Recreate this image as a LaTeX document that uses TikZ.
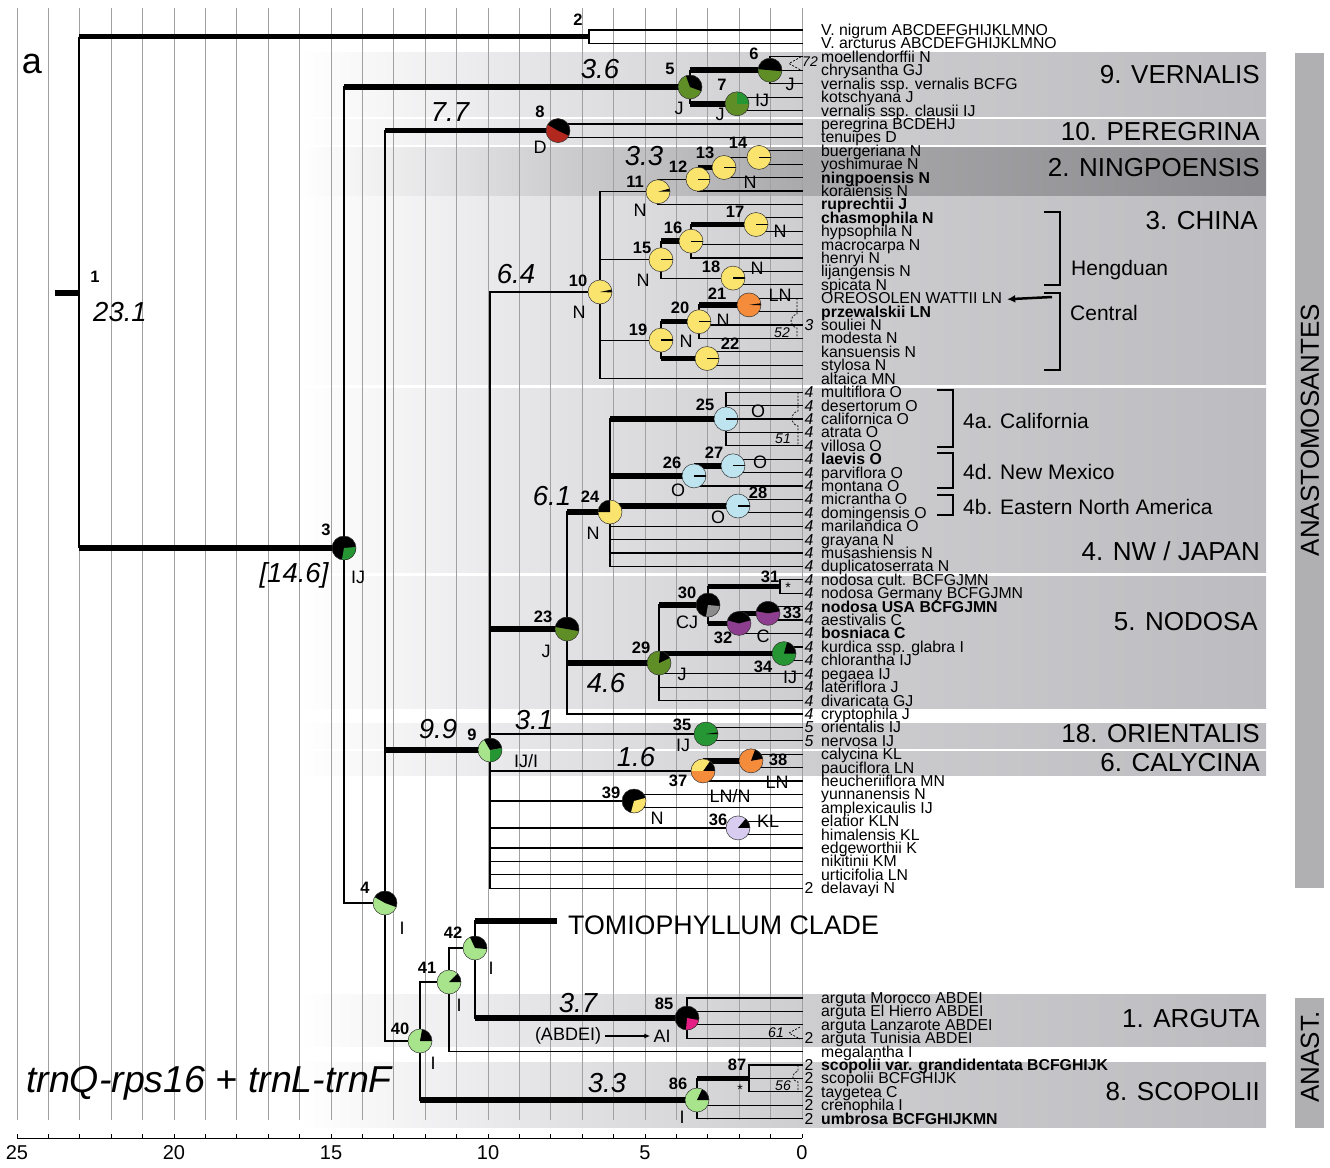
\documentclass[tikz,border=0pt]{standalone}
\usepackage{fontspec}
\setmainfont{Liberation Sans}
\usetikzlibrary{arrows.meta}
\definecolor{olv}{RGB}{96,142,38}
\definecolor{dkg}{RGB}{38,150,52}
\definecolor{lgr}{RGB}{168,228,140}
\definecolor{ylw}{RGB}{250,228,110}
\definecolor{org}{RGB}{245,140,60}
\definecolor{rdd}{RGB}{178,40,30}
\definecolor{lbl}{RGB}{190,228,240}
\definecolor{pur}{RGB}{142,62,142}
\definecolor{gry}{RGB}{140,140,140}
\definecolor{lav}{RGB}{216,204,240}
\definecolor{pnk}{RGB}{228,30,130}
\definecolor{bA}{RGB}{226,226,229}
\definecolor{bB}{RGB}{206,206,209}
\definecolor{bC}{RGB}{188,188,192}
\definecolor{dA}{RGB}{205,205,208}
\definecolor{dB}{RGB}{170,170,173}
\definecolor{dC}{RGB}{138,137,141}
\definecolor{gridc}{RGB}{160,160,160}
\definecolor{sidec}{RGB}{176,176,179}
\pgfdeclarehorizontalshading{bandsh}{100bp}{color(0bp)=(white); color(25bp)=(white); color(38.5bp)=(bA); color(51bp)=(bB); color(75bp)=(bC); color(100bp)=(bC)}
\pgfdeclarehorizontalshading{darksh}{100bp}{color(0bp)=(white); color(25bp)=(white); color(38.5bp)=(dA); color(51bp)=(dB); color(75bp)=(dC); color(100bp)=(dC)}
\newcommand{\tp}[3]{\coordinate (e#1) at (802,#2); \node[tiplab] (t#1) at (821,{#2+5.5}) {#3};}
\newcommand{\tpn}[4]{\coordinate (e#1) at (802,#2); \node[prelab] (p#1) at (809,{#2+5.5}) {#3}; \node[tiplab] (t#1) at (821,{#2+5.5}) {#4};}
\newcommand{\pbase}[2]{\fill[#2] (#1) circle[radius=12pt];}
\newcommand{\pcut}[4]{\fill[#4] (#1) -- ++(#2:12pt) arc[start angle=#2, end angle=#3, radius=12pt] -- cycle;}
\newcommand{\pout}[1]{\draw[pieline] (#1) circle[radius=12pt];}
\newcommand{\pln}[1]{\draw[line width=1.3pt] (#1) -- ++(0:12pt);}
\newcommand{\bandrow}[3]{\shade[shading=#3] (300,#1) rectangle (1266,#2);}
\begin{document}
\begin{tikzpicture}[x=1pt,y=-1pt,
  brn/.style={line width=1.2pt, line cap=rect},
  thk/.style={line width=5.5pt},
  tiplab/.style={anchor=base west, inner sep=0pt, font=\fontsize{15.8}{16}\selectfont},
  prelab/.style={anchor=base, inner sep=0pt, font=\fontsize{15.8}{16}\selectfont\itshape},
  nnum/.style={inner sep=0pt, font=\fontsize{16.5}{17}\selectfont\bfseries},
  stl/.style={inner sep=0pt, font=\fontsize{18}{18}\selectfont},
  agel/.style={inner sep=0pt, font=\fontsize{27.5}{28}\selectfont\itshape},
  clab/.style={anchor=east, inner sep=0pt, font=\fontsize{26}{26}\selectfont},
  regl/.style={anchor=west, inner sep=0pt, font=\fontsize{21}{21}\selectfont},
  anno/.style={inner sep=0pt, font=\fontsize{14}{14}\selectfont\itshape},
  pieline/.style={draw=black!80, line width=0.5pt},
  dsh/.style={dash pattern=on 2pt off 1.5pt, line width=0.7pt},
  gline/.style={draw=gridc, line width=0.8pt},
  brk/.style={line width=2pt}
]
\useasboundingbox (0,0) rectangle (1330,1167);
% ---------- clade bands ----------
\bandrow{52}{116}{bandsh}
\bandrow{119}{144}{bandsh}
\bandrow{147}{196}{darksh}
\bandrow{196}{384}{bandsh}
\bandrow{388}{572}{bandsh}
\bandrow{576}{708}{bandsh}
\bandrow{723}{748}{bandsh}
\bandrow{751}{775}{bandsh}
\bandrow{994}{1046}{bandsh}
\bandrow{1062}{1127}{bandsh}
% side bars
\fill[sidec] (1295,53) rectangle (1324,888);
\fill[sidec] (1295,998) rectangle (1324,1128);
\node[rotate=90, inner sep=0pt, font=\fontsize{26}{26}\selectfont] (anas) at (1310,430) {ANASTOMOSANTES};
\node[rotate=90, inner sep=0pt, font=\fontsize{26}{26}\selectfont] (anst) at (1310,1057) {ANAST.};
% ---------- grid and axis ----------
\foreach \k in {0,...,25} \draw[gline] ({802-31.4*\k},8) -- ({802-31.4*\k},1120);
\draw[line width=1pt] (17,1138) -- (802,1138);
\foreach \k in {0,...,25} \draw[line width=0.8pt] ({802-31.4*\k},1138) -- ({802-31.4*\k},1134);
\foreach \k in {0,5,10,15,20,25} \node[inner sep=0pt, font=\fontsize{20}{20}\selectfont] (ax\k) at ({802-31.4*\k},1153) {\k};
% ---------- tips ----------
\tp{1}{30.0}{V. nigrum ABCDEFGHIJKLMNO}
\tp{2}{43.4}{V. arcturus ABCDEFGHIJKLMNO}
\tp{3}{56.8}{moellendorffii N}
\tp{4}{70.2}{chrysantha GJ}
\tp{5}{83.6}{vernalis ssp. vernalis BCFG}
\tp{6}{97.1}{kotschyana J}
\tp{7}{110.5}{vernalis ssp. clausii IJ}
\tp{8}{123.9}{peregrina BCDEHJ}
\tp{9}{137.3}{tenuipes D}
\tp{10}{150.7}{buergeriana N}
\tp{11}{164.1}{yoshimurae N}
\tp{12}{177.5}{\textbf{ningpoensis N}}
\tp{13}{190.9}{koraiensis N}
\tp{14}{204.3}{\textbf{ruprechtii J}}
\tp{15}{217.7}{\textbf{chasmophila N}}
\tp{16}{231.2}{hypsophila N}
\tp{17}{244.6}{macrocarpa N}
\tp{18}{258.0}{henryi N}
\tp{19}{271.4}{lijangensis N}
\tp{20}{284.8}{spicata N}
\tp{21}{298.2}{OREOSOLEN WATTII LN}
\tp{22}{311.6}{\textbf{przewalskii LN}}
\tpn{23}{325.0}{3}{souliei N}
\tp{24}{338.4}{modesta N}
\tp{25}{351.8}{kansuensis N}
\tp{26}{365.3}{stylosa N}
\tp{27}{378.7}{altaica MN}
\tpn{28}{392.1}{4}{multiflora O}
\tpn{29}{405.5}{4}{desertorum O}
\tpn{30}{418.9}{4}{californica O}
\tpn{31}{432.3}{4}{atrata O}
\tpn{32}{445.7}{4}{villosa O}
\tpn{33}{459.1}{4}{\textbf{laevis O}}
\tpn{34}{472.5}{4}{parviflora O}
\tpn{35}{485.9}{4}{montana O}
\tpn{36}{499.3}{4}{micrantha O}
\tpn{37}{512.8}{4}{domingensis O}
\tpn{38}{526.2}{4}{marilandica O}
\tpn{39}{539.6}{4}{grayana N}
\tpn{40}{553.0}{4}{musashiensis N}
\tpn{41}{566.4}{4}{duplicatoserrata N}
\tpn{42}{579.8}{4}{nodosa cult. BCFGJMN}
\tpn{43}{593.2}{4}{nodosa Germany BCFGJMN}
\tpn{44}{606.6}{4}{\textbf{nodosa USA BCFGJMN}}
\tpn{45}{620.0}{4}{aestivalis C}
\tpn{46}{633.4}{4}{\textbf{bosniaca C}}
\tpn{47}{646.9}{4}{kurdica ssp. glabra I}
\tpn{48}{660.3}{4}{chlorantha IJ}
\tpn{49}{673.7}{4}{pegaea IJ}
\tpn{50}{687.1}{4}{lateriflora J}
\tpn{51}{700.5}{4}{divaricata GJ}
\tpn{52}{713.9}{4}{cryptophila J}
\tpn{53}{727.3}{5}{orientalis IJ}
\tpn{54}{740.7}{5}{nervosa IJ}
\tp{55}{754.1}{calycina KL}
\tp{56}{767.5}{pauciflora LN}
\tp{57}{780.9}{heucheriiflora MN}
\tp{58}{794.3}{yunnanensis N}
\tp{59}{807.8}{amplexicaulis IJ}
\tp{60}{821.2}{elatior KLN}
\tp{61}{834.6}{himalensis KL}
\tp{62}{848.0}{edgeworthii K}
\tp{63}{861.4}{nikitinii KM}
\tp{64}{874.8}{urticifolia LN}
\tpn{65}{888.2}{\upshape 2}{delavayi N}
\tp{66}{998.0}{arguta Morocco ABDEI}
\tp{67}{1011.4}{arguta El Hierro ABDEI}
\tp{68}{1024.8}{arguta Lanzarote ABDEI}
\tpn{69}{1038.2}{\upshape 2}{arguta Tunisia ABDEI}
\tp{70}{1051.6}{megalantha I}
\tpn{71}{1065.0}{\upshape 2}{\textbf{scopolii var. grandidentata BCFGHIJK}}
\tpn{72}{1078.4}{\upshape 2}{scopolii BCFGHIJK}
\tpn{73}{1091.8}{\upshape 2}{taygetea C}
\tpn{74}{1105.2}{\upshape 2}{crenophila I}
\tpn{75}{1118.6}{\upshape 2}{\textbf{umbrosa BCFGHIJKMN}}
% ---------- internal nodes ----------
\coordinate (r0) at (55,293);
\coordinate (n1) at (79,293);
\coordinate (n2) at (589,36.7);
\coordinate (n3) at (344,548);
\coordinate (n4) at (385,903);
\coordinate (n5) at (690,87);
\coordinate (n6) at (770,70.2);
\coordinate (n7) at (737,103.8);
\coordinate (n8) at (558,130.6);
\coordinate (n9) at (490,750);
\coordinate (n10) at (600,292);
\coordinate (n11) at (658,191.7);
\coordinate (n12) at (698,179.2);
\coordinate (n13) at (724,167.5);
\coordinate (n14) at (759,157.4);
\coordinate (n15) at (661,259.7);
\coordinate (n16) at (691,241.2);
\coordinate (n17) at (756,224.5);
\coordinate (n18) at (733,278.1);
\coordinate (n19) at (661,340.1);
\coordinate (n20) at (699,321.7);
\coordinate (n21) at (749,304.9);
\coordinate (n22) at (707,358.5);
\coordinate (n23) at (567,629);
\coordinate (n24) at (610,512);
\coordinate (n25) at (726,418.9);
\coordinate (n26) at (694,475.9);
\coordinate (n27) at (733,465.8);
\coordinate (n28) at (738,506);
\coordinate (n29) at (659,663);
\coordinate (n30) at (708,605);
\coordinate (n31) at (780,586.5);
\coordinate (n32) at (739,623.4);
\coordinate (n33) at (768,613.3);
\coordinate (n34) at (784,653.6);
\coordinate (n35) at (706,734);
\coordinate (n36) at (738,827.9);
\coordinate (n37) at (703,770.9);
\coordinate (n38) at (751,760.8);
\coordinate (n39) at (634,801);
\coordinate (n40) at (420,1041);
\coordinate (n41) at (449,982);
\coordinate (n42) at (475,948);
\coordinate (tom) at (557,921);
\coordinate (n85) at (687,1018);
\coordinate (n86) at (697,1100);
\coordinate (n87) at (749,1078.4);
% ---------- verticals ----------
\draw[line width=2.2pt] (n1|-n2) -- (n1|-n3);
\draw[brn] (n2|-e1) -- (n2|-e2);
\draw[brn] (n3|-n5) -- (n3|-n4);
\draw[brn] (n5|-n6) -- (n5|-n7);
\draw[brn] (n6|-e3) -- (n6|-e5);
\draw[brn] (n7|-e6) -- (n7|-e7);
\draw[brn] (n4|-n8) -- (n4|-n40);
\draw[brn] (n8|-e8) -- (n8|-e9);
\draw[brn] (n9|-n10) -- (n9|-e65);
\draw[brn] (n10|-n11) -- (n10|-e27);
\draw[brn] (n11|-n12) -- (n11|-e14);
\draw[brn] (n12|-n13) -- (n12|-e13);
\draw[brn] (n13|-n14) -- (n13|-e12);
\draw[brn] (n14|-e10) -- (n14|-e11);
\draw[brn] (n15|-n16) -- (n15|-n18);
\draw[brn] (n16|-n17) -- (n16|-e18);
\draw[brn] (n17|-e15) -- (n17|-e16);
\draw[brn] (n18|-e19) -- (n18|-e20);
\draw[brn] (n19|-n20) -- (n19|-n22);
\draw[brn] (n20|-n21) -- (n20|-e24);
\draw[brn] (n21|-e21) -- (n21|-e22);
\draw[brn] (n22|-e25) -- (n22|-e26);
\draw[brn] (n23|-n24) -- (n23|-e52);
\draw[brn] (n24|-n25) -- (n24|-e41);
\draw[brn] (n25|-e28) -- (n25|-e32);
\draw[brn] (n26|-n27) -- (n26|-e35);
\draw[brn] (n27|-e33) -- (n27|-e34);
\draw[brn] (n28|-e36) -- (n28|-e37);
\draw[brn] (n29|-n30) -- (n29|-e51);
\draw[brn] (n30|-n31) -- (n30|-n32);
\draw[brn] (n31|-e42) -- (n31|-e43);
\draw[brn] (n32|-n33) -- (n32|-e46);
\draw[brn] (n33|-e44) -- (n33|-e45);
\draw[brn] (n34|-e47) -- (n34|-e48);
\draw[brn] (n35|-e53) -- (n35|-e54);
\draw[brn] (n37|-n38) -- (n37|-e57);
\draw[brn] (n38|-e55) -- (n38|-e56);
\draw[brn] (n39|-e58) -- (n39|-e59);
\draw[brn] (n36|-e60) -- (n36|-e61);
\draw[brn] (n40|-n41) -- (n40|-n86);
\draw[brn] (n41|-n42) -- (n41|-e70);
\draw[brn] (n42|-tom) -- (n42|-n85);
\draw[brn] (n85|-e66) -- (n85|-e69);
\draw[brn] (n86|-n87) -- (n86|-e75);
\draw[brn] (n87|-e71) -- (n87|-e73);
% ---------- thick branches ----------
\draw[thk] (r0) -- (n1);
\draw[thk] (n1|-n2) -- (n2);
\draw[thk] (n1|-n3) -- (n3);
\draw[thk] (n3|-n5) -- (n5);
\draw[thk] (n5|-n6) -- (n6);
\draw[thk] (n5|-n7) -- (n7);
\draw[thk] (n4|-n8) -- (n8);
\draw[thk] (n4|-n9) -- (n9);
\draw[thk] (n9|-n23) -- (n23);
\draw[thk] (n23|-n24) -- (n24);
\draw[thk] (n23|-n29) -- (n29);
\draw[thk] (n24|-n25) -- (n25);
\draw[thk] (n24|-n26) -- (n26);
\draw[thk] (n24|-n28) -- (n28);
\draw[thk] (n26|-n27) -- (n27);
\draw[thk] (n29|-n30) -- (n30);
\draw[thk] (n29|-n34) -- (n34);
\draw[thk] (n30|-n31) -- (n31);
\draw[thk] (n30|-n32) -- (n32);
\draw[thk] (n32|-n33) -- (n33);
\draw[thk] (n12|-n13) -- (n13);
\draw[thk] (n15|-n16) -- (n16);
\draw[thk] (n16|-n17) -- (n17);
\draw[thk] (n19|-n20) -- (n20);
\draw[thk] (n19|-n22) -- (n22);
\draw[thk] (n20|-n21) -- (n21);
\draw[thk] (n37|-n38) -- (n38);
\draw[thk] (n42|-tom) -- (tom);
\draw[thk] (n42|-n85) -- (n85);
\draw[thk] (n40|-n86) -- (n86);
\draw[thk] (n86|-n87) -- (n87);
% ---------- thin branches ----------
\draw[brn] (n3|-n4) -- (n4);
\draw[brn] (n9|-n10) -- (n10);
\draw[brn] (n10|-n11) -- (n11);
\draw[brn] (n10|-n15) -- (n15);
\draw[brn] (n10|-n19) -- (n19);
\draw[brn] (n11|-n12) -- (n12);
\draw[brn] (n13|-n14) -- (n14);
\draw[brn] (n15|-n18) -- (n18);
\draw[brn] (n9|-n35) -- (n35);
\draw[brn] (n9|-n37) -- (n37);
\draw[brn] (n9|-n39) -- (n39);
\draw[brn] (n9|-n36) -- (n36);
\draw[brn] (n4|-n40) -- (n40);
\draw[brn] (n40|-n41) -- (n41);
\draw[brn] (n41|-n42) -- (n42);
% tip branches
\foreach \i in {1,2} \draw[brn] (n2|-e\i) -- (e\i);
\foreach \i in {3,4,5} \draw[brn] (n6|-e\i) -- (e\i);
\foreach \i in {6,7} \draw[brn] (n7|-e\i) -- (e\i);
\foreach \i in {8,9} \draw[brn] (n8|-e\i) -- (e\i);
\foreach \i in {10,11} \draw[brn] (n14|-e\i) -- (e\i);
\draw[brn] (n13|-e12) -- (e12);
\draw[brn] (n12|-e13) -- (e13);
\draw[brn] (n11|-e14) -- (e14);
\foreach \i in {15,16} \draw[brn] (n17|-e\i) -- (e\i);
\foreach \i in {17,18} \draw[brn] (n16|-e\i) -- (e\i);
\foreach \i in {19,20} \draw[brn] (n18|-e\i) -- (e\i);
\foreach \i in {21,22} \draw[brn] (n21|-e\i) -- (e\i);
\foreach \i in {23,24} \draw[brn] (n20|-e\i) -- (e\i);
\foreach \i in {25,26} \draw[brn] (n22|-e\i) -- (e\i);
\draw[brn] (n10|-e27) -- (e27);
\foreach \i in {28,...,32} \draw[brn] (n25|-e\i) -- (e\i);
\foreach \i in {33,34} \draw[brn] (n27|-e\i) -- (e\i);
\draw[brn] (n26|-e35) -- (e35);
\foreach \i in {36,37} \draw[brn] (n28|-e\i) -- (e\i);
\foreach \i in {38,...,41} \draw[brn] (n24|-e\i) -- (e\i);
\foreach \i in {42,43} \draw[brn] (n31|-e\i) -- (e\i);
\foreach \i in {44,45} \draw[brn] (n33|-e\i) -- (e\i);
\draw[brn] (n32|-e46) -- (e46);
\foreach \i in {47,48} \draw[brn] (n34|-e\i) -- (e\i);
\foreach \i in {49,50,51} \draw[brn] (n29|-e\i) -- (e\i);
\draw[brn] (n23|-e52) -- (e52);
\foreach \i in {53,54} \draw[brn] (n35|-e\i) -- (e\i);
\foreach \i in {55,56} \draw[brn] (n38|-e\i) -- (e\i);
\draw[brn] (n37|-e57) -- (e57);
\foreach \i in {58,59} \draw[brn] (n39|-e\i) -- (e\i);
\foreach \i in {60,61} \draw[brn] (n36|-e\i) -- (e\i);
\foreach \i in {62,...,65} \draw[brn] (n9|-e\i) -- (e\i);
\foreach \i in {66,...,69} \draw[brn] (n85|-e\i) -- (e\i);
\draw[brn] (n41|-e70) -- (e70);
\foreach \i in {71,72,73} \draw[brn] (n87|-e\i) -- (e\i);
\foreach \i in {74,75} \draw[brn] (n86|-e\i) -- (e\i);
% ---------- pies ----------
\pbase{n3}{black}\pcut{n3}{-100}{5}{dkg}\pout{n3}
\pbase{n4}{lgr}\pcut{n4}{-20}{150}{black}\pout{n4}
\pbase{n5}{olv}\pcut{n5}{-20}{110}{black}\pout{n5}
\pbase{n6}{olv}\pcut{n6}{-5}{175}{black}\pout{n6}
\pbase{n7}{olv}\pcut{n7}{0}{90}{dkg}\pout{n7}
\pbase{n8}{rdd}\pcut{n8}{-25}{150}{black}\pout{n8}
\pbase{n9}{lgr}\pcut{n9}{-90}{10}{dkg}\pcut{n9}{10}{120}{black}\pout{n9}
\pbase{n10}{ylw}\pcut{n10}{-2}{12}{black}\pout{n10}
\pbase{n11}{ylw}\pcut{n11}{0}{15}{black}\pout{n11}
\foreach \n in {12,13,14,15,16,17,18,19,20,22} {\pbase{n\n}{ylw}\pln{n\n}\pout{n\n}}
\pbase{n21}{org}\pcut{n21}{-2}{8}{black}\pout{n21}
\pbase{n23}{olv}\pcut{n23}{-10}{170}{black}\pout{n23}
\pbase{n24}{ylw}\pcut{n24}{90}{180}{black}\pout{n24}
\foreach \n in {25,26,27,28} {\pbase{n\n}{lbl}\pln{n\n}\pout{n\n}}
\pbase{n29}{olv}\pcut{n29}{25}{85}{black}\pout{n29}
\pbase{n30}{black}\pcut{n30}{-100}{-5}{gry}\pout{n30}
\pbase{n32}{pur}\pcut{n32}{15}{165}{black}\pout{n32}
\pbase{n33}{pur}\pcut{n33}{10}{170}{black}\pout{n33}
\pbase{n34}{dkg}\pcut{n34}{0}{75}{black}\pout{n34}
\pbase{n35}{dkg}\pcut{n35}{0}{8}{black}\pout{n35}
\pbase{n36}{lav}\pcut{n36}{0}{50}{black}\pout{n36}
\pbase{n37}{org}\pcut{n37}{0}{55}{black}\pcut{n37}{55}{180}{ylw}\pout{n37}
\pbase{n38}{org}\pcut{n38}{10}{70}{black}\pout{n38}
\pbase{n39}{black}\pcut{n39}{-105}{15}{ylw}\pout{n39}
\pbase{n40}{lgr}\pcut{n40}{0}{80}{black}\pout{n40}
\pbase{n41}{lgr}\pcut{n41}{0}{45}{black}\pout{n41}
\pbase{n42}{lgr}\pcut{n42}{-5}{115}{black}\pout{n42}
\pbase{n85}{black}\pcut{n85}{-95}{-10}{pnk}\pout{n85}
\pbase{n86}{lgr}\pcut{n86}{0}{65}{black}\pout{n86}
% ---------- dashed annotations ----------
\draw[dsh] (801,56.8) -- (789,63.5) -- (801,70.2);
\node[anno] (d72) at (810,62) {72};
\draw[dsh] (797,298.2) -- (797,314) .. controls (789,316) and (789,326) .. (797,328) -- (797,338.4);
\node[anno] (d52) at (782,333) {52};
\draw[dsh] (798,392.1) -- (798,411) .. controls (790,413) and (790,424) .. (798,426) -- (798,445.7);
\node[anno] (d51) at (783,439) {51};
\draw[dsh] (800,1027) -- (789,1033) -- (800,1039);
\node[anno] (d61) at (776,1033) {61};
\draw[dsh] (798,1065) -- (798,1071) .. controls (791,1074) and (791,1080) .. (798,1082) -- (798,1092);
\node[anno] (d56) at (783,1086) {56};
\node[inner sep=0pt, font=\fontsize{14}{14}\selectfont] (st31) at (788,588) {*};
\node[inner sep=0pt, font=\fontsize{14}{14}\selectfont] (st87) at (740,1090) {*};
% ---------- node numbers ----------
\node[nnum] (L1) at (95,277) {1};
\node[nnum] (L2) at (578,20) {2};
\node[nnum] (L3) at (326,530) {3};
\node[nnum] (L4) at (365,888) {4};
\node[nnum] (L5) at (670,69) {5};
\node[nnum] (L6) at (754,54) {6};
\node[nnum] (L7) at (722,85) {7};
\node[nnum] (L8) at (540,112) {8};
\node[nnum] (L9) at (472,735) {9};
\node[nnum] (L10) at (578,281) {10};
\node[nnum] (L11) at (635,182) {11};
\node[nnum] (L12) at (678,167) {12};
\node[nnum] (L13) at (705,153) {13};
\node[nnum] (L14) at (738,143) {14};
\node[nnum] (L15) at (642,248) {15};
\node[nnum] (L16) at (673,228) {16};
\node[nnum] (L17) at (735,212) {17};
\node[nnum] (L18) at (711,267) {18};
\node[nnum] (L19) at (638,330) {19};
\node[nnum] (L20) at (680,308) {20};
\node[nnum] (L21) at (717,294) {21};
\node[nnum] (L22) at (730,344) {22};
\node[nnum] (L23) at (543,617) {23};
\node[nnum] (L24) at (590,497) {24};
\node[nnum] (L25) at (705,405) {25};
\node[nnum] (L26) at (672,463) {26};
\node[nnum] (L27) at (714,453) {27};
\node[nnum] (L28) at (758,493) {28};
\node[nnum] (L29) at (641,648) {29};
\node[nnum] (L30) at (687,593) {30};
\node[nnum] (L31) at (770,577) {31};
\node[nnum] (L32) at (723,638) {32};
\node[nnum] (L33) at (792,613) {33};
\node[nnum] (L34) at (763,667) {34};
\node[nnum] (L35) at (682,725) {35};
\node[nnum] (L36) at (718,820) {36};
\node[nnum] (L37) at (678,781) {37};
\node[nnum] (L38) at (778,760) {38};
\node[nnum] (L39) at (611,793) {39};
\node[nnum] (L40) at (400,1029) {40};
\node[nnum] (L41) at (427,968) {41};
\node[nnum] (L42) at (453,933) {42};
\node[nnum] (L85) at (664,1004) {85};
\node[nnum] (L86) at (678,1084) {86};
\node[nnum] (L87) at (737,1065) {87};
% ---------- state labels ----------
\node[stl] (S3) at (358,577) {IJ};
\node[stl] (S4) at (402,928) {I};
\node[stl] (S5) at (679,108) {J};
\node[stl] (S6) at (790,84) {J};
\node[stl] (S7a) at (720,114) {J};
\node[stl] (S7b) at (762,100) {IJ};
\node[stl] (S8) at (540,147) {D};
\node[stl] (S9) at (526,761) {IJ/I};
\node[stl] (S10) at (579,312) {N};
\node[stl] (S11) at (640,210) {N};
\node[stl] (S13) at (750,182) {N};
\node[stl] (S15) at (643,280) {N};
\node[stl] (S17) at (780,231) {N};
\node[stl] (S18) at (757,268) {N};
\node[stl] (S19) at (686,341) {N};
\node[stl] (S20) at (723,320) {N};
\node[stl] (S21) at (780,295) {LN};
\node[stl] (S23) at (546,651) {J};
\node[stl] (S24) at (593,533) {N};
\node[stl] (S25) at (758,411) {O};
\node[stl] (S26) at (678,490) {O};
\node[stl] (S27) at (760,462) {O};
\node[stl] (S28) at (718,517) {O};
\node[stl] (S29) at (682,674) {J};
\node[stl] (S30) at (687,622) {CJ};
\node[stl] (S32) at (763,636) {C};
\node[stl] (S34) at (790,677) {IJ};
\node[stl] (S35) at (683,745) {IJ};
\node[stl] (S37) at (730,796) {LN/N};
\node[stl] (S38) at (777,782) {LN};
\node[stl] (S39) at (657,818) {N};
\node[stl] (S36) at (768,821) {KL};
\node[stl] (S40) at (433,1063) {I};
\node[stl] (S41) at (459,1005) {I};
\node[stl] (S42) at (491,968) {I};
\node[stl] (S86) at (682,1117) {I};
\node[stl] (S85a) at (568,1036) {(ABDEI)};
\node[stl] (S85b) at (662,1036) {AI};
\draw[line width=1.2pt, -{Latex[length=6pt,width=5pt]}] (S85a.east) ++(4,0) coordinate (abS) -- ([xshift=-3pt]S85b.west);
% ---------- ages ----------
\node[agel] (A1) at (120,312) {23.1};
\node[agel] (A3) at (294,575) {[14.6]};
\node[agel] (A5) at (600,69) {3.6};
\node[agel] (A8) at (450,112) {7.7};
\node[agel] (A10) at (516,274) {6.4};
\node[agel] (A12) at (644,156) {3.3};
\node[agel] (A24) at (552,496) {6.1};
\node[agel] (A29) at (606,683) {4.6};
\node[agel] (A35) at (534,720) {3.1};
\node[agel] (A9) at (438,729) {9.9};
\node[agel] (A37) at (636,757) {1.6};
\node[agel] (A85) at (578,1003) {3.7};
\node[agel] (A86) at (607,1083) {3.3};
% ---------- clade labels ----------
\node[clab] (C9) at (1260,75) {9. VERNALIS};
\node[clab] (C10) at (1260,132) {10. PEREGRINA};
\node[clab] (C2) at (1260,168) {2. NINGPOENSIS};
\node[clab] (C3) at (1258,221) {3. CHINA};
\node[clab] (C4) at (1260,551) {4. NW / JAPAN};
\node[clab] (C5) at (1258,622) {5. NODOSA};
\node[clab] (C18) at (1260,734) {18. ORIENTALIS};
\node[clab] (C6) at (1260,763) {6. CALYCINA};
\node[clab] (C1) at (1260,1019) {1. ARGUTA};
\node[clab] (C8) at (1260,1092) {8. SCOPOLII};
\node[anchor=west, inner sep=0pt, font=\fontsize{26.8}{27}\selectfont] (tomi) at (568,925) {TOMIOPHYLLUM CLADE};
% ---------- region brackets ----------
\draw[brk] (1044,212) -- (1060,212) -- (1060,285) -- (1044,285);
\draw[brk] (1044,293) -- (1060,293) -- (1060,370) -- (1044,370);
\node[regl] (hen) at (1071,270) {Hengduan};
\node[regl] (cen) at (1070,313) {Central};
\coordinate (arS) at (1052,297);
\draw[line width=2.5pt, -{Latex[length=8pt,width=8pt]}] (arS) -- ([xshift=5pt, yshift=-1pt]t21.east);
\draw[brk] (937,390) -- (953,390) -- (953,447) -- (937,447);
\draw[brk] (937,453) -- (953,453) -- (953,488) -- (937,488);
\draw[brk] (937,495) -- (953,495) -- (953,515) -- (937,515);
\node[regl] (rca) at (963,421) {4a. California};
\node[regl] (rnm) at (963,472) {4d. New Mexico};
\node[regl] (rea) at (963,507) {4b. Eastern North America};
% ---------- misc ----------
\node[inner sep=0pt, font=\fontsize{36}{36}\selectfont] (pa) at (32,64) {a};
\node[anchor=west, inner sep=0pt, font=\fontsize{37.5}{38}\selectfont\itshape] (gene) at (26,1083) {trnQ-rps16 + trnL-trnF};
\end{tikzpicture}
\end{document}
